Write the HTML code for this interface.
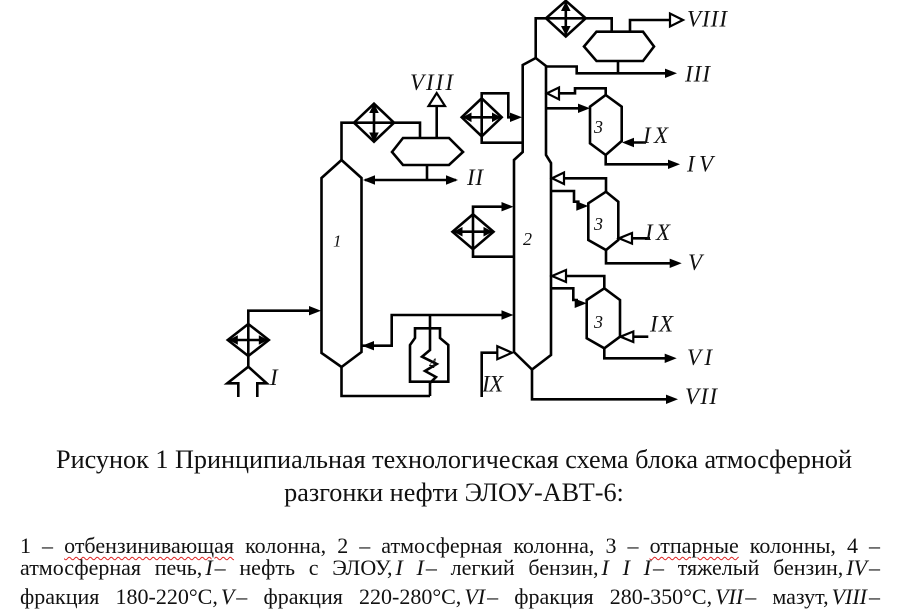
<!DOCTYPE html>
<html><head><meta charset="utf-8">
<style>
html,body{margin:0;padding:0;background:#fff;}
body{width:900px;height:600px;overflow:hidden;position:relative;font-family:"Liberation Serif","Noto Serif CJK SC",serif;color:#111;}
svg{position:absolute;left:0;top:0;}
.cap{position:absolute;left:4px;width:900px;text-align:center;font-family:"Liberation Serif",serif;font-size:26.2px;line-height:32.4px;white-space:nowrap;}
.ln{position:absolute;left:20px;width:860px;font-family:"Liberation Serif",serif;font-size:22px;line-height:21.3px;text-align:justify;text-align-last:justify;white-space:normal;}
.w{text-decoration:underline wavy #d22;text-decoration-thickness:1px;text-underline-offset:3px;}
.n{font-style:italic;margin-left:3px;margin-right:2px;}
</style></head><body>
<svg width="900" height="430" viewBox="0 0 900 430">
<g fill="none" stroke="#000" stroke-width="2.6" stroke-linejoin="miter">
<!-- column 1 -->
<polygon points="341.5,160 361.5,178 361.5,352 341.5,367 321.5,353 321.5,178"/>
<polyline points="341.5,160 341.5,122.7 354,122.7"/>
<polygon points="374,103.7 394,122.7 374,141.7 354,122.7"/>
<line x1="374" y1="106" x2="374" y2="139"/>
<line x1="354" y1="122.7" x2="394" y2="122.7"/>
<polyline points="394,122.7 420,122.7 420,138"/>
<polygon points="392,152 403,138 449,138 463,152 449,165 403,165"/>
<line x1="436.7" y1="138" x2="436.7" y2="106"/>
<line x1="427" y1="165" x2="427" y2="180"/>
<line x1="365" y1="180" x2="456" y2="180"/>
<!-- column 2 -->
<polygon points="535.7,58 546,66 546,155 551,163 551,355 532,369.5 514,352 514,160 522.7,152 522.7,65"/>
<polyline points="535.7,58 535.7,18.3 546,18.3"/>
<polygon points="565.8,0.8 585.7,18.3 565.8,36.5 546,18.3"/>
<line x1="565.8" y1="3" x2="565.8" y2="34"/>
<line x1="546" y1="18.3" x2="585.7" y2="18.3"/>
<polyline points="585.7,18.3 611.7,18.3 611.7,31.7"/>
<polygon points="584,46.5 596.5,31.7 643,31.7 654,46.5 643,61 596.5,61"/>
<polyline points="630,31.7 630,20 670,20"/>
<line x1="618" y1="61" x2="618" y2="73.3"/>
<polyline points="546,66.5 576.7,66.5 576.7,73.3 670,73.3"/>
<!-- stripper 1 -->
<polyline points="559,93.3 575,93.3 575,88.3 605.7,88.3 605.7,95"/>
<polygon points="605.7,95 621.7,106.7 621.7,141 605.7,155 590,143.3 590,106.7"/>
<line x1="546" y1="108.3" x2="584" y2="108.3"/>
<line x1="628" y1="142.5" x2="646" y2="142.5"/>
<polyline points="605.7,155 605.7,164.3 674,164.3"/>
<!-- exchanger C -->
<polygon points="481.7,98.3 501.7,117.3 481.7,136.3 461.7,117.3"/>
<line x1="481.7" y1="98.3" x2="481.7" y2="136.3"/>
<line x1="464" y1="117.3" x2="499" y2="117.3"/>
<polyline points="481.7,98.3 481.7,93.3 508.3,93.3 508.3,117.3 516,117.3"/>
<polyline points="481.7,136.3 481.7,142.7 522.7,142.7"/>
<!-- stripper 2 -->
<polyline points="564,178.3 606,178.3 606,191.7"/>
<polygon points="606,191.7 618.3,201.7 618.3,240 606,250 588.3,240 588.3,203.3"/>
<polyline points="551,191 574,191 574,201.7 578.3,201.7 578.3,206 583,206"/>
<line x1="632" y1="238.3" x2="650" y2="238.3"/>
<polyline points="606,250 606,263.3 676,263.3"/>
<!-- exchanger D -->
<polygon points="473,214.2 493.5,231.7 473,249.2 452.5,231.7"/>
<line x1="473" y1="214.2" x2="473" y2="249.2"/>
<line x1="455" y1="231.7" x2="491" y2="231.7"/>
<polyline points="473,214.2 473,206.7 508,206.7"/>
<polyline points="473,249.2 473,256.7 514,256.7"/>
<!-- stripper 3 -->
<polyline points="566,276 604.3,276 604.3,288.3"/>
<polygon points="604.3,288.3 620,300 620,336.7 604.3,348.3 586.7,338.3 586.7,300"/>
<polyline points="551,288.3 573.3,288.3 573.3,300 576.7,300 576.7,303.3 581,303.3"/>
<line x1="633.3" y1="336.7" x2="648.3" y2="336.7"/>
<polyline points="604.3,348.3 604.3,358.3 671,358.3"/>
<!-- bottom col 2 -->
<polyline points="532,369.5 532,399.3 672,399.3"/>
<polyline points="497.3,352.7 481.7,352.7 481.7,397"/>
<!-- furnace -->
<polyline points="362,345.7 391.7,345.7 391.7,315 507,315"/>
<polyline points="430,315 430,350 422,356.7 436.7,364 425,371 436,377 430,383 430,396"/>
<polygon points="410,381.7 410,345 415,338 415,328.3 440,328.3 440,338 448.3,345 448.3,381.7"/>
<polyline points="341.5,367 341.5,396 430,396"/>
<!-- feed -->
<polygon points="248.3,324 268.8,340 248.3,356 227.8,340"/>
<line x1="248.3" y1="324" x2="248.3" y2="356"/>
<line x1="231" y1="340" x2="266" y2="340"/>
<polyline points="248.3,324 248.3,310.7 315,310.7"/>
<line x1="248.3" y1="356" x2="248.3" y2="366.7"/>
<polyline points="238.3,397 238.3,383.3 227.3,383.3 248.3,366.7 266.7,383.3 257.3,383.3 257.3,397"/>
</g>
<!-- filled heads -->
<g fill="#000" stroke="none">
<polygon points="374,103.5 369.2,113 378.8,113"/><polygon points="374,142 369.2,132.5 378.8,132.5"/>
<polygon points="565.8,1.5 561,11 570.6,11"/><polygon points="565.8,35.5 561,26 570.6,26"/>
<polygon points="462.5,117.3 471.5,112.5 471.5,122.1"/><polygon points="501,117.3 492,112.5 492,122.1"/>
<polygon points="453.5,231.7 462.5,226.9 462.5,236.5"/><polygon points="492.5,231.7 483.5,226.9 483.5,236.5"/>
<polygon points="228.8,340 237.8,335.2 237.8,344.8"/><polygon points="267.8,340 258.8,335.2 258.8,344.8"/>
<polygon points="458,180 446,175.3 446,184.7"/>
<polygon points="363,180 375,175.3 375,184.7"/>
<polygon points="677,73.3 665,68.6 665,78"/>
<polygon points="590,108.3 578,103.6 578,113"/>
<polygon points="622,142.5 634,137.8 634,147.2"/>
<polygon points="680,164.3 668,159.6 668,169"/>
<polygon points="522,117.3 510,112.6 510,122"/>
<polygon points="588.3,206 576.3,201.3 576.3,210.7"/>
<polygon points="681.7,263.3 669.7,258.6 669.7,268"/>
<polygon points="513.5,206.7 501.5,202 501.5,211.4"/>
<polygon points="586.7,303.3 574.7,298.6 574.7,308"/>
<polygon points="676.7,358.3 664.7,353.6 664.7,363"/>
<polygon points="678,399.3 666,394.6 666,404"/>
<polygon points="513.5,315 501.5,310.3 501.5,319.7"/>
<polygon points="362,345.7 374,341 374,350.4"/>
<polygon points="321,310.7 309,306 309,315.4"/>
</g>
<!-- hollow heads -->
<g fill="#fff" stroke="#000" stroke-width="2.2" stroke-linejoin="miter">
<polygon points="436.7,93 428.5,106 445,106"/>
<polygon points="683,20 670,13.5 670,26.5"/>
<polygon points="547,93.3 559,87.5 559,99.3"/>
<polygon points="552,178.3 564,172.5 564,184"/>
<polygon points="552,276 566,270 566,282"/>
<polygon points="619,238.3 632,233 632,243.6"/>
<polygon points="620.5,336.7 633.3,331.5 633.3,342"/>
<polygon points="512,352.7 497.3,346.2 497.3,359.2"/>
</g>
<g font-family="Liberation Serif, serif" font-style="italic" fill="#111" font-size="23">
<text x="410" y="90" textLength="43" lengthAdjust="spacing">VIII</text>
<text x="467" y="185" textLength="16" lengthAdjust="spacing">II</text>
<text x="687" y="26.5" textLength="40" lengthAdjust="spacing">VIII</text>
<text x="685" y="81.5" textLength="25" lengthAdjust="spacing">III</text>
<text x="643" y="143" textLength="25" lengthAdjust="spacing">IX</text>
<text x="687" y="171.5" textLength="26" lengthAdjust="spacing">IV</text>
<text x="645" y="240" textLength="25" lengthAdjust="spacing">IX</text>
<text x="688" y="270">V</text>
<text x="650" y="331.5" textLength="23" lengthAdjust="spacing">IX</text>
<text x="687" y="365" textLength="25" lengthAdjust="spacing">VI</text>
<text x="685" y="404" textLength="32" lengthAdjust="spacing">VII</text>
<text x="482" y="391.5" textLength="21" lengthAdjust="spacing">IX</text>
<text x="270" y="385">I</text>
<text x="333" y="246.5" font-size="17">1</text>
<text x="523" y="245" font-size="18">2</text>
<text x="594" y="133" font-size="18">3</text>
<text x="594" y="230" font-size="18">3</text>
<text x="594" y="328" font-size="18">3</text>
<text x="429" y="368" font-size="15">4</text>
</g>
</svg>
<div class="cap" style="top:444.3px;">Рисунок 1 Принципиальная технологическая схема блока атмосферной</div>
<div class="cap" style="top:476.7px;">разгонки нефти ЭЛОУ-АВТ-6:</div>
<div class="ln" style="top:535.2px;">1 – <span class="w">отбензинивающая</span> колонна, 2 – атмосферная колонна, 3 – <span class="w">отпарные</span> колонны, 4 –</div>
<div class="ln" style="top:557px;">атмосферная печь,<span class="n">I</span>– нефть с ЭЛОУ,<span class="n">I I</span>– легкий бензин,<span class="n">I I I</span>– тяжелый бензин,<span class="n">IV</span>–</div>
<div class="ln" style="top:586px;">фракция 180-220°С,<span class="n">V</span>– фракция 220-280°С,<span class="n">VI</span>– фракция 280-350°С,<span class="n">VII</span>– мазут,<span class="n">VIII</span>–</div>
</body></html>
